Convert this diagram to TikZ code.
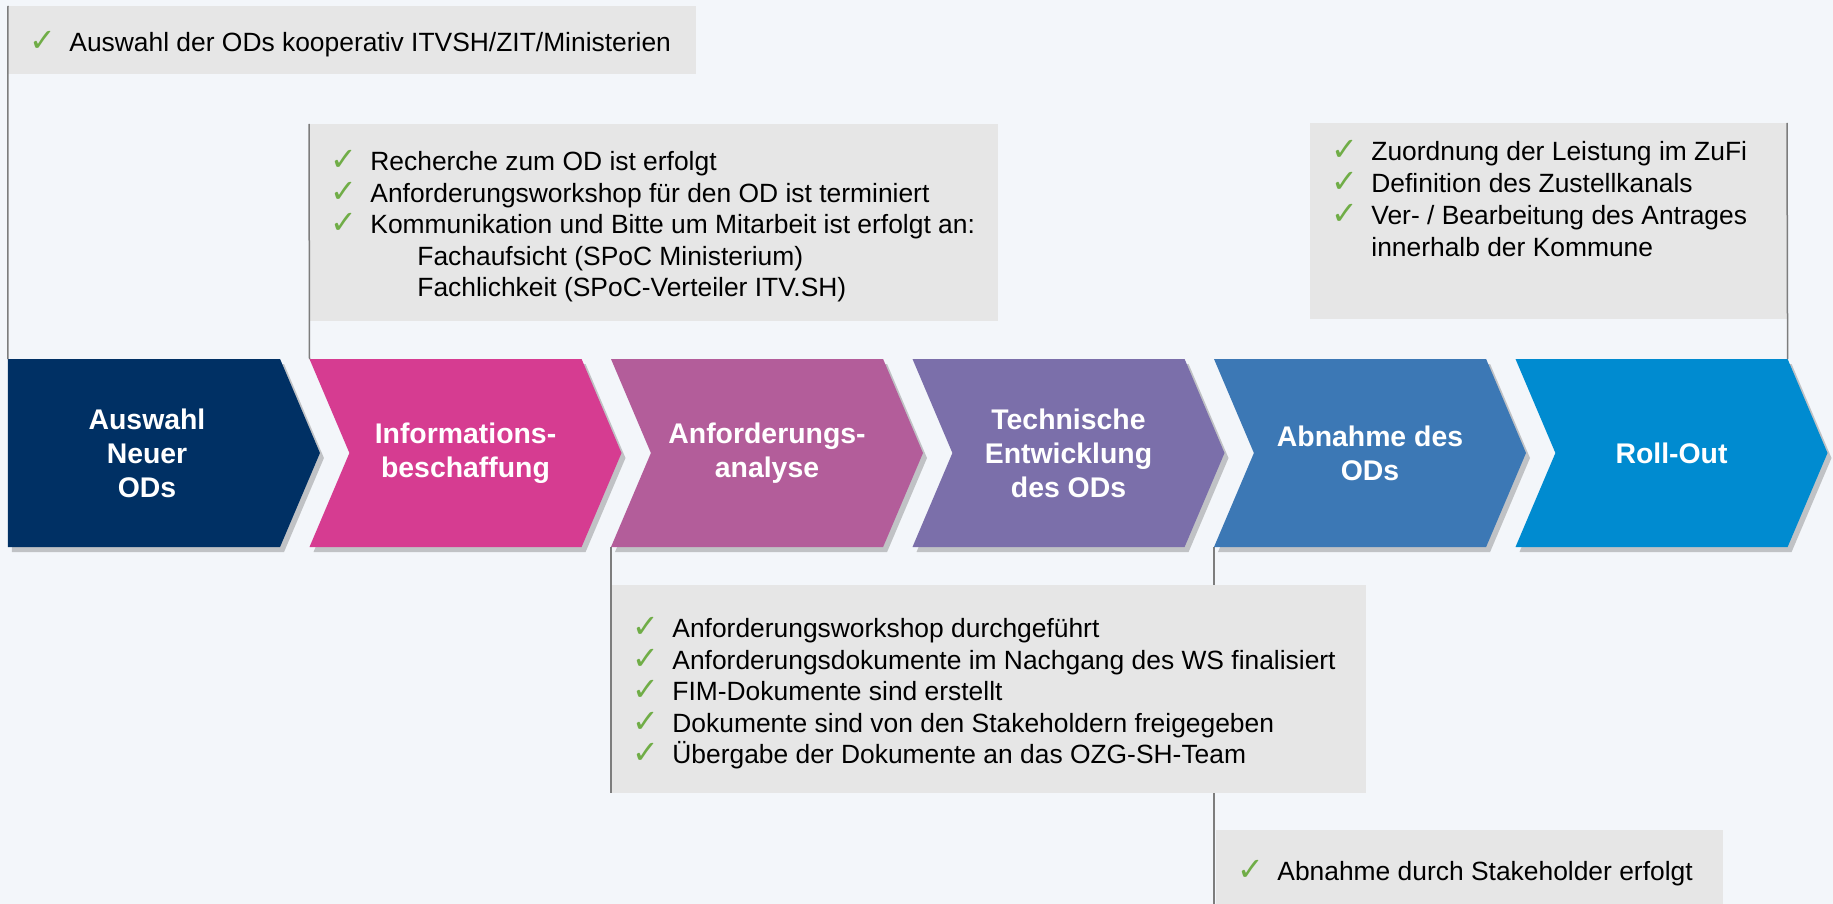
\documentclass[tikz,border=0pt]{standalone}
\usepackage{fontspec}
\setmainfont{Liberation Sans}
\newfontfamily\chkfont{DejaVu Sans}
\usetikzlibrary{shapes.symbols, shadows, positioning}

\definecolor{pageBg}{RGB}{243,246,250}
\definecolor{boxGray}{RGB}{230,230,230}
\definecolor{lineGray}{RGB}{125,125,125}
\definecolor{checkGreen}{RGB}{112,173,71}
\definecolor{stepNavy}{RGB}{0,48,100}
\definecolor{stepPink}{RGB}{214,60,145}
\definecolor{stepMauve}{RGB}{179,93,154}
\definecolor{stepViolet}{RGB}{123,111,170}
\definecolor{stepBlue}{RGB}{60,120,181}
\definecolor{stepCyan}{RGB}{0,139,208}

\newcommand{\chk}{\makebox[20pt][l]{\chkfont\bfseries\fontsize{16}{16}\selectfont\textcolor{checkGreen}{✓}}}

\pgfdeclarelayer{back}
\pgfdeclarelayer{links}
\pgfsetlayers{back,links,main}

\tikzstyle{stepArrow} = [signal, signal to=east, signal from=west, signal pointer angle=134,
minimum width=156pt, minimum height=94pt, inner sep=0pt, outer sep=0pt, text=white,
font=\bfseries\fontsize{14.2}{17}\selectfont, align=center,
drop shadow={shadow xshift=2pt, shadow yshift=-2.5pt, opacity=0.3, fill=black!70}]
\tikzstyle{stepLabel} = [text=white, font=\bfseries\fontsize{14.2}{17}\selectfont, align=center]
\tikzstyle{infoBox} = [rectangle, fill=boxGray, inner sep=0pt, outer sep=0pt, anchor=north west]
\tikzstyle{infoText} = [inner sep=0pt, align=left, font=\fontsize{13.2}{15.75}\selectfont]
\tikzstyle{line} = [lineGray, line width=0.75pt]

\begin{document}
\begin{tikzpicture}[x=0.5pt, y=-0.5pt, node distance=150.75pt]
    \begin{pgfonlayer}{back}
    \fill[pageBg] (0,0) rectangle (1833,904);
    \end{pgfonlayer}
    \useasboundingbox (0,0) rectangle (1833,904);

    % process chain
    \node (auswahl) [stepArrow, signal from=nowhere, fill=stepNavy] at (144,453) {};
    \node (auswahlText) [stepLabel] at (147,453) {Auswahl\\Neuer\\ODs};
    \node (info) [stepArrow, fill=stepPink, right of=auswahl, xshift=10pt] {Informations-\\beschaffung};
    \node (anforderung) [stepArrow, fill=stepMauve, right of=info] {Anforderungs-\\analyse};
    \node (technik) [stepArrow, fill=stepViolet, right of=anforderung] {Technische\\Entwicklung\\des ODs};
    \node (abnahme) [stepArrow, fill=stepBlue, right of=technik] {Abnahme des\\ODs};
    \node (rollout) [stepArrow, fill=stepCyan, right of=abnahme] {Roll-Out};

    % check lists
    \node (auswahlBox) [infoBox, minimum width=344pt, minimum height=34pt] at (8,6) {};
    \node (auswahlList) [infoText, below right=12.5pt and 10.5pt of auswahlBox.north west]
    {\chk Auswahl der ODs kooperativ ITVSH/ZIT/Ministerien};

    \node (infoBox) [infoBox, minimum width=344.5pt, minimum height=98.5pt] at (309,124) {};
    \node (infoList) [infoText, below right=13pt and 10.5pt of infoBox.north west]
    {\chk Recherche zum OD ist erfolgt\\
    \chk Anforderungsworkshop für den OD ist terminiert\\
    \chk Kommunikation und Bitte um Mitarbeit ist erfolgt an:\\
    \hspace*{43.5pt}Fachaufsicht (SPoC Ministerium)\\
    \hspace*{43.5pt}Fachlichkeit (SPoC-Verteiler ITV.SH)};

    \node (zufiBox) [infoBox, minimum width=238.5pt, minimum height=98pt] at (1310,123) {};
    \node (zufiList) [infoText, font=\fontsize{13.2}{16}\selectfont, below right=8.5pt and 10.5pt of zufiBox.north west]
    {\chk Zuordnung der Leistung im ZuFi\\
    \chk Definition des Zustellkanals\\
    \chk Ver- / Bearbeitung des Antrages\\
    \hspace*{20pt}innerhalb der Kommune};

    \node (workshopBox) [infoBox, minimum width=377.5pt, minimum height=104pt] at (611,585) {};
    \node (workshopList) [infoText, below right=16pt and 10.5pt of workshopBox.north west]
    {\chk Anforderungsworkshop durchgeführt\\
    \chk Anforderungsdokumente im Nachgang des WS finalisiert\\
    \chk FIM-Dokumente sind erstellt\\
    \chk Dokumente sind von den Stakeholdern freigegeben\\
    \chk Übergabe der Dokumente an das OZG-SH-Team};

    \node (stakeholderBox) [infoBox, minimum width=253.5pt, minimum height=45pt] at (1216,830) {};
    \node (stakeholderList) [infoText, below right=15pt and 10.5pt of stakeholderBox.north west]
    {\chk Abnahme durch Stakeholder erfolgt};

    % connectors
    \draw[line] (auswahlBox.north west) -- (auswahl.north west);
    \draw[line] (infoBox.north west) -- (info.north west);
    \draw[line] (zufiBox.north east) -- (rollout.north east);
    \draw[line] (anforderung.south west) -- (workshopBox.south west);
    \begin{pgfonlayer}{links}
    \draw[line] (abnahme.south west) -- (abnahme.south west |- stakeholderBox.south);
    \end{pgfonlayer}

\end{tikzpicture}
\end{document}
